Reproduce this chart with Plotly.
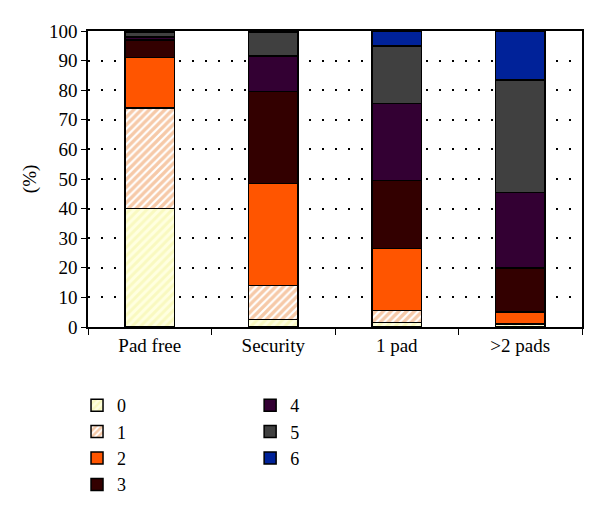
import plotly.graph_objects as go

categories = ["Pad free", "Security", "1 pad", ">2 pads"]
series_names = ["0", "1", "2", "3", "4", "5", "6"]
s0 = [40, 2.5, 1.5, 1]
s1 = [34, 11.5, 4, 0]
s2 = [17, 34.5, 21, 4]
s3 = [6, 31, 23, 15]
s4 = [1, 12, 26, 25.5]
s5 = [1.5, 8, 19.5, 38]
s6 = [0.5, 0.5, 5, 16.5]
values = [s0, s1, s2, s3, s4, s5, s6]
yticks = [0, 10, 20, 30, 40, 50, 60, 70, 80, 90, 100]
y_title = "(%)"

colors = ["#FFFFDD", "#FFFFFF", "#FF5500", "#330000", "#330033", "#404040", "#002299"]
patterns = [
    dict(shape="/", fgcolor="#F4F4A0", bgcolor="#FFFFE0", size=6, solidity=0.5),
    dict(shape="/", fgcolor="#EE9452", bgcolor="#FFFFFF", size=5.5, solidity=0.6),
    None, None, None, None, None,
]

FONT = "Liberation Serif"
fig = go.Figure()
for i, (name, vals) in enumerate(zip(series_names, values)):
    marker = dict(color=colors[i], line=dict(color="black", width=1.5))
    if patterns[i] is not None:
        marker["pattern"] = patterns[i]
    fig.add_trace(go.Bar(
        x=categories, y=vals, name=name, marker=marker,
        legend="legend" if i < 4 else "legend2",
    ))

fig.update_layout(
    barmode="stack",
    bargap=0.6,
    width=592, height=504,
    margin=dict(l=80, r=18, t=23, b=185, autoexpand=False),
    plot_bgcolor="white",
    paper_bgcolor="white",
    font=dict(family=FONT, size=19, color="black"),
    legend=dict(xref="container", yref="container", x=0.1166, y=0.248,
                xanchor="left", yanchor="top",
                traceorder="normal", font=dict(family=FONT, size=18),
                itemclick=False, tracegroupgap=0),
    legend2=dict(xref="container", yref="container", x=0.409, y=0.248,
                 xanchor="left", yanchor="top",
                 traceorder="normal", font=dict(family=FONT, size=18),
                 itemclick=False, tracegroupgap=0),
    annotations=[dict(text=y_title, xref="paper", yref="paper", x=-0.117, y=0.5,
                      textangle=-90, showarrow=False, xanchor="center",
                      yanchor="middle", font=dict(family=FONT, size=19))],
)
fig.update_xaxes(
    showline=True, linecolor="black", linewidth=1.5, mirror=True,
    ticks="outside", tickson="boundaries", ticklen=6, tickcolor="black",
    showgrid=False,
)
fig.update_yaxes(
    range=[0, 100], tickvals=yticks, ticks="outside", ticklen=5, tickcolor="black",
    showline=True, linecolor="black", linewidth=1.5, mirror=True,
    showgrid=True, gridcolor="black", gridwidth=1.5, griddash="1.5px,11.5px",
    zeroline=False,
)
fig.write_html("out.html")
